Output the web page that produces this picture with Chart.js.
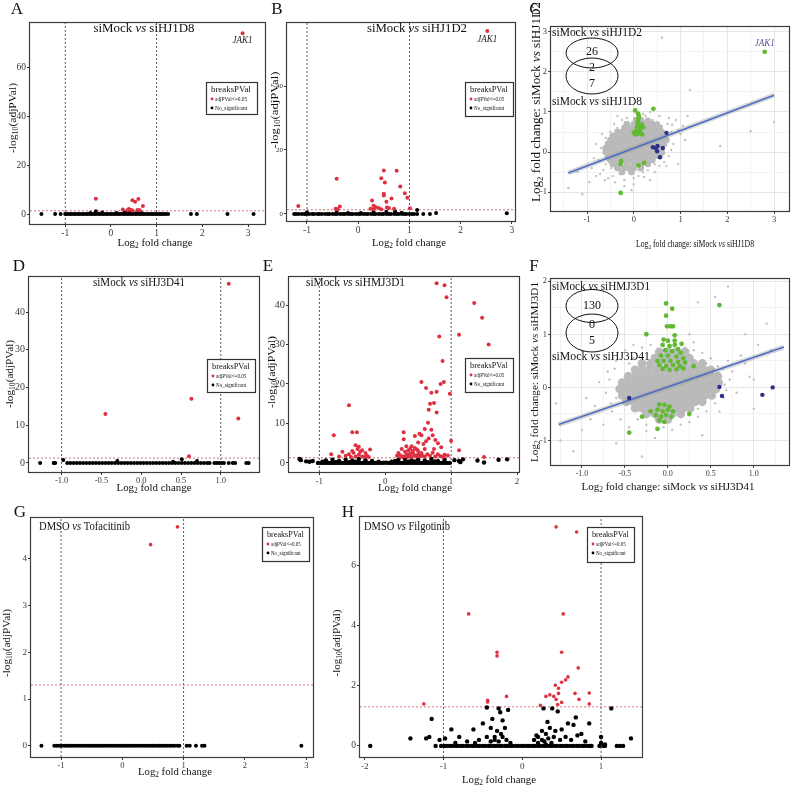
<!DOCTYPE html>
<html>
<head>
<meta charset="utf-8">
<title>Volcano and fold-change panels</title>
<script src="https://cdn.jsdelivr.net/npm/chart.js@4.4.0/dist/chart.umd.min.js"></script>
<style>
  body { margin: 0; background: #fff; }
  #wrap { position: relative; width: 796px; height: 790px; }
  #wrap canvas { position: absolute; left: 0; top: 0; }
</style>
</head>
<body>
<div id="wrap">
  <canvas id="cA" width="796" height="790"></canvas>
  <canvas id="cB" width="796" height="790"></canvas>
  <canvas id="cC" width="796" height="790"></canvas>
  <canvas id="cD" width="796" height="790"></canvas>
  <canvas id="cE" width="796" height="790"></canvas>
  <canvas id="cF" width="796" height="790"></canvas>
  <canvas id="cG" width="796" height="790"></canvas>
  <canvas id="cH" width="796" height="790"></canvas>
</div>
<script>
// shared cut-offs
const SIG_LINE = 1.3;      // -log10(0.05)
const FC_CUT = [-1, 1];
const LEGEND_ITEMS = ['adjPVal<=0.05', 'No_significant'];

// A: siMock vs siHJ1D8
const aSig = [[2.88,74.2],[-0.33,6.3],[0.47,5.6],[0.53,5.0],[0.6,6.2],[0.7,3.3],[0.39,2.1],[0.26,1.9],[0.43,1.7],[0.58,1.6],[0.36,1.5],[0.63,1.5],[0.47,1.4]];
const aFlat = [-1.52,-1.22,-1.1,-1.0,-0.96,-0.91,-0.87,-0.82,-0.78,-0.73,-0.69,-0.64,-0.6,-0.55,-0.51,-0.46,-0.42,-0.37,-0.33,-0.28,-0.24,-0.19,-0.15,-0.1,-0.06,-0.01,0.03,0.08,0.12,0.17,0.21,0.26,0.3,0.35,0.39,0.44,0.48,0.53,0.57,0.62,0.66,0.71,0.75,0.8,0.84,0.89,0.93,0.98,1.02,1.07,1.11,1.16,1.2,1.25,1.75,1.88,2.55,3.12];
const aNs = [[-0.33,1.1],[-0.19,0.6],[0.37,1.0],[0.45,0.7],[0.6,0.8],[0.66,0.5],[-0.45,0.4],[0.12,0.4],[0.3,0.6],[0.55,0.3]];

// B: siMock vs siHJ1D2
const bSig = [[2.52,57.2],[-1.17,2.5],[-0.42,11],[-0.36,2.3],[-0.44,1.6],[-0.4,1.5],[0.27,4.2],[0.3,2.6],[0.34,2.2],[0.45,11.2],[0.5,13.6],[0.52,9.8],[0.5,5.8],[0.5,6.3],[0.55,3.8],[0.65,4.8],[0.75,13.5],[0.82,8.6],[0.91,6.5],[0.96,5.1],[1.01,1.8],[0.24,1.6],[0.4,1.9],[0.6,1.9],[0.45,1.5],[0.56,2.0],[0.3,1.5],[0.7,1.6]];
const bFlat = [-1.25,-1.21,-1.16,-1.1,-1.05,-1.01,-0.96,-0.9,-0.86,-0.8,-0.76,-0.71,-0.65,-0.6,-0.56,-0.5,-0.45,-0.41,-0.35,-0.3,-0.26,-0.2,-0.15,-0.11,-0.05,0.0,0.04,0.1,0.15,0.19,0.25,0.3,0.34,0.4,0.45,0.49,0.55,0.6,0.64,0.7,0.75,0.79,0.85,0.9,0.94,1.0,1.05,1.09,1.15,1.27,1.4];
const bNs = [[1.15,1.2],[1.52,0.3],[2.9,0.2],[-1.0,0.5],[-0.42,0.6],[0.3,0.6],[0.55,0.7],[0.72,0.8],[0.85,0.4],[-0.2,0.3],[0.05,0.3]];

// C: fold change siHJ1D8 (x) vs siHJ1D2 (y)
const cVenn = ['26', '2', '7'];
const cGreen = [[2.8,2.5],[0.42,1.08],[0.03,1.04],[0.09,0.96],[0.11,0.9],[0.1,0.84],[0.09,0.78],[0.08,0.72],[0.1,0.67],[0.15,0.65],[0.2,0.62],[0.07,0.62],[0.12,0.57],[0.0,0.48],[0.03,0.44],[0.08,0.46],[0.14,0.47],[0.18,0.44],[0.05,0.52],[0.13,0.53],[0.02,0.5],[0.17,0.69],[-0.27,-0.22],[-0.28,-0.3],[0.1,-0.33],[0.22,-0.27],[-0.28,-1.02]];
const cBlue = [[0.7,0.48],[0.41,0.12],[0.47,0.1],[0.51,0.15],[0.62,0.1],[0.5,0.02],[0.56,-0.13]];
const cFit = [[-1.4,-0.52],[3.0,1.42]];
const cCore = [[0.05,0.8],[0.15,0.8],[0.3,0.78],
  [-0.15,0.7],[0.0,0.7],[0.1,0.7],[0.2,0.72],[0.3,0.68],[0.4,0.7],[0.5,0.68],
  [-0.2,0.6],[-0.1,0.6],[0.0,0.6],[0.1,0.6],[0.25,0.62],[0.35,0.58],[0.45,0.6],[0.55,0.6],
  [-0.35,0.5],[-0.25,0.5],[-0.15,0.5],[-0.05,0.5],[0.1,0.52],[0.2,0.5],[0.3,0.5],[0.4,0.5],[0.5,0.52],[0.6,0.5],
  [-0.45,0.4],[-0.35,0.4],[-0.25,0.4],[-0.15,0.4],[-0.05,0.4],[0.05,0.4],[0.15,0.4],[0.25,0.4],[0.35,0.4],[0.45,0.4],[0.55,0.42],[0.65,0.4],
  [-0.5,0.3],[-0.4,0.3],[-0.3,0.3],[-0.2,0.3],[-0.1,0.3],[0.0,0.3],[0.1,0.3],[0.2,0.3],[0.3,0.3],[0.4,0.3],[0.5,0.3],[0.6,0.32],[0.7,0.3],
  [-0.55,0.2],[-0.45,0.2],[-0.35,0.2],[-0.25,0.2],[-0.15,0.2],[-0.05,0.2],[0.05,0.2],[0.15,0.2],[0.25,0.2],[0.35,0.2],[0.45,0.2],[0.55,0.2],[0.65,0.2],
  [-0.6,0.1],[-0.5,0.1],[-0.4,0.1],[-0.3,0.1],[-0.2,0.1],[-0.1,0.1],[0.0,0.1],[0.1,0.1],[0.2,0.1],[0.3,0.1],[0.4,0.1],[0.5,0.08],[0.6,0.1],
  [-0.6,0.0],[-0.5,0.0],[-0.4,0.0],[-0.3,0.0],[-0.2,0.0],[-0.1,0.0],[0.0,0.0],[0.1,0.0],[0.2,0.0],[0.3,0.0],[0.4,-0.02],[0.5,0.0],[0.6,-0.02],
  [-0.55,-0.1],[-0.45,-0.1],[-0.35,-0.1],[-0.25,-0.1],[-0.15,-0.1],[-0.05,-0.1],[0.05,-0.1],[0.15,-0.1],[0.25,-0.1],[0.35,-0.12],[0.45,-0.1],[0.55,-0.1],
  [-0.5,-0.2],[-0.4,-0.2],[-0.3,-0.2],[-0.2,-0.2],[-0.1,-0.2],[0.0,-0.2],[0.1,-0.2],[0.2,-0.22],[0.3,-0.2],[0.4,-0.2],
  [-0.45,-0.3],[-0.38,-0.3],[-0.3,-0.3],[-0.15,-0.3],[0.0,-0.3],[0.15,-0.32],[0.3,-0.3],
  [-0.35,-0.4],[-0.2,-0.4],[-0.1,-0.4],[0.0,-0.4],[0.15,-0.4],[-0.25,-0.5],[-0.05,-0.5]];
const cFringe = [[-1.4,-0.9],[-1.1,-1.05],[-0.9,-0.4],[-0.8,-0.6],[-0.75,-0.2],[-0.7,0.1],[-0.65,-0.45],[-0.6,0.35],[-0.6,-0.3],[-0.55,-0.65],[-0.5,0.5],[-0.48,-0.4],[-0.42,0.7],[-0.4,-0.75],[-0.35,0.6],[-0.3,-0.55],[-0.25,0.8],[-0.2,-0.7],[-0.15,0.85],[-0.1,-0.5],[0.0,-0.8],[0.05,0.85],[0.1,-0.6],[0.2,-0.5],[0.25,0.9],[0.3,-0.45],[0.4,0.8],[0.45,-0.3],[0.5,0.75],[0.55,-0.35],[0.6,0.65],[0.65,-0.25],[0.7,0.3],[0.72,0.7],[0.75,-0.1],[0.8,0.5],[0.85,0.2],[0.9,0.8],[0.95,-0.3],[1.0,0.45],[1.05,0.65],[1.2,1.55],[1.85,0.15],[2.5,0.52],[3.0,0.75],[0.6,2.85],[-0.05,-0.95],[0.35,-0.7],[-0.55,0.15],[0.65,0.45],[0.55,0.9],[-0.55,-0.1],[-0.5,0.25],[0.62,0.2],[0.6,-0.05],[0.45,0.68],[0.12,0.78],[-0.3,-0.4],[0.1,-0.45],[-0.15,0.7],
  [-0.85,-0.15],[-0.8,0.2],[-0.72,-0.55],[-0.68,0.45],[-0.62,-0.7],[-0.35,0.9],[-0.2,-0.85],[0.2,0.95],[0.22,-0.62],[0.45,-0.5],[0.7,-0.35],[0.8,0.05],[0.82,0.68],[0.95,0.55],[1.1,0.3],[1.15,0.9],[-0.95,-0.75],[-1.2,-0.5],[0.35,1.0],[0.0,-0.65],[-0.45,-0.6],[0.75,0.85]];

// D: siMock vs siHJ3D41
const dSig = [[1.1,47.5],[-0.45,13],[0.63,17],[1.22,11.8],[0.6,1.8]];
const dFlat = [-1.27,-1.1,-1.08,-0.93,-0.89,-0.85,-0.81,-0.77,-0.73,-0.69,-0.65,-0.61,-0.57,-0.53,-0.49,-0.45,-0.41,-0.37,-0.33,-0.29,-0.25,-0.21,-0.17,-0.13,-0.09,-0.05,-0.01,0.03,0.07,0.11,0.15,0.19,0.23,0.27,0.31,0.35,0.39,0.43,0.47,0.51,0.55,0.59,0.63,0.67,0.71,0.75,0.79,0.83,0.86,0.92,0.95,0.98,1.01,1.04,1.1,1.15,1.18,1.32,1.35];
const dNs = [[-0.98,0.8],[-0.3,0.5],[0.4,0.3],[0.51,1.0],[0.7,0.5]];

// E: siMock vs siHMJ3D1
const eSig = [[0.78,45.5],[0.9,45],[0.93,42],[1.35,40.5],[1.47,36.8],[1.57,30],[1.12,32.5],[0.82,32],[0.87,25.8],[0.55,20.5],[0.62,19],[0.7,17.8],[0.78,18],[0.84,20],[0.89,20.5],[0.98,17.5],[0.68,15],[0.74,15.2],[0.66,13.5],[0.78,12.8],[-0.55,14.6],[-0.78,7],[-0.5,7.8],[-0.43,7.8],[0.28,7.8],[0.52,7.4],[0.55,7],[0.6,8.6],[0.65,10.2],[0.7,8.4],[0.72,7],[0.76,5.8],[0.8,5],[0.85,4],[1.0,5.6],[1.12,3.2],[0.9,2.1],[1.5,1.5],[0.28,6],[0.32,4.2],[0.25,3.5],[0.4,4.2],[0.45,3.8],[0.5,3],[0.35,3.2],[0.2,2.5],[0.3,2.8],[0.38,3.6],[0.42,2.6],[0.48,3.4],[0.55,2.5],[0.6,3.5],[0.18,1.8],[0.22,2.0],[0.26,1.7],[0.3,1.6],[0.33,2.2],[0.36,1.8],[0.4,1.5],[0.44,2.0],[0.47,1.7],[0.52,1.6],[0.56,1.9],[0.6,1.6],[0.64,2.2],[0.68,1.8],[0.72,2.6],[0.76,1.6],[0.8,2.2],[0.84,1.7],[0.88,1.5],[0.95,1.9],[0.58,4.8],[0.66,6.2],[0.74,3.5],[0.62,5.5],[0.5,5.2],[0.45,6.8],[-0.45,4.5],[-0.4,4.1],[-0.35,3.2],[-0.23,3.4],[-0.3,2.5],[-0.5,3],[-0.65,2.8],[-0.6,1.8],[-0.4,2.1],[-0.45,1.6],[-0.55,2.2],[-0.35,1.6],[-0.28,1.9],[-0.25,1.5],[-0.7,1.6],[-0.48,2.6],[-0.38,2.8],[-0.32,1.5],[-0.52,1.5],[-0.42,3.5],[-0.82,2.2],[0.38,2.4],[0.34,1.5],[0.24,1.5],[0.42,3.0],[0.5,2.2]];
const eFlat = [-1.02,-0.98,-0.94,-0.9,-0.86,-0.82,-0.78,-0.74,-0.7,-0.66,-0.62,-0.58,-0.54,-0.5,-0.46,-0.42,-0.38,-0.34,-0.3,-0.26,-0.22,-0.18,-0.14,-0.1,-0.06,0.06,0.1,0.14,0.18,0.22,0.26,0.3,0.34,0.38,0.42,0.46,0.5,0.54,0.58,0.62,0.66,0.7,0.74,0.78,0.82,0.86,0.9,0.94,0.98];
const eNs = [[-1.3,1.0],[-1.28,0.7],[-1.2,0.4],[-1.15,0.3],[-1.1,0.5],[-0.95,0.3],[-0.9,0.6],[-0.8,0.8],[-0.7,0.5],[-0.6,0.9],[-0.5,0.6],[-0.4,1.0],[-0.3,0.7],[-0.2,0.5],[-0.1,0.3],[0.1,0.3],[0.2,0.8],[0.3,1.0],[0.4,0.7],[0.5,0.9],[0.6,0.6],[0.7,1.0],[0.8,0.5],[0.9,0.8],[1.05,0.7],[1.12,0.5],[1.14,0.2],[1.18,0.9],[1.4,0.6],[1.5,0.1],[1.72,0.8],[1.85,0.9],[-0.75,0.2],[-0.45,0.3],[0.35,0.3],[0.65,0.2],[-0.55,0.2],[0.15,0.5],[0.45,0.4],[0.75,0.4],[-0.02,0.05],[0.02,0.05]];

// F: fold change siHJ3D41 (x) vs siHMJ3D1 (y)
const fVenn = ['130', '0', '5'];
const fGreen = [[-0.02,1.58],[0.05,1.48],[0.6,1.55],[-0.02,1.35],[-0.01,1.15],[0.03,1.15],[0.06,1.15],[-0.25,1.0],[0.08,0.98],[-0.05,0.9],[0.0,0.88],[-0.06,0.8],[0.02,0.78],[0.08,0.8],[0.12,0.72],[-0.03,0.7],[0.05,0.68],[0.15,0.65],[-0.08,0.6],[0.0,0.6],[0.1,0.58],[0.18,0.55],[-0.05,0.5],[0.03,0.5],[0.12,0.48],[0.2,0.47],[-0.1,0.42],[-0.02,0.4],[0.06,0.42],[0.14,0.4],[-0.06,0.35],[0.02,0.33],[0.1,0.34],[0.18,0.36],[0.3,0.4],[-0.12,0.5],[0.08,0.88],[0.16,0.82],
  [-0.1,-0.32],[-0.04,-0.33],[0.02,-0.36],[-0.12,-0.42],[-0.06,-0.45],[0.0,-0.42],[0.06,-0.45],[-0.14,-0.52],[-0.08,-0.55],[-0.02,-0.52],[0.04,-0.55],[-0.1,-0.62],[-0.04,-0.65],[-0.3,-0.55],[0.25,-0.5],[-0.12,-0.78],[-0.45,-0.85],[-0.2,-0.45]];
const fBlue = [[-0.45,-0.2],[0.6,0.01],[0.63,-0.16],[1.1,-0.14],[1.22,0.0]];
const fFit = [[-1.27,-0.7],[1.35,0.76]];
const fCore = [[-0.1,0.67],[0.0,0.67],[0.1,0.67],[0.2,0.67],
  [-0.15,0.55],[-0.05,0.55],[0.05,0.55],[0.15,0.55],[0.25,0.55],
  [-0.3,0.45],[-0.2,0.45],[-0.1,0.45],[0.0,0.45],[0.1,0.45],[0.2,0.45],[0.3,0.45],[0.4,0.45],
  [-0.38,0.33],[-0.3,0.33],[-0.22,0.33],[-0.14,0.33],[-0.06,0.33],[0.02,0.33],[0.1,0.33],[0.18,0.33],[0.26,0.33],[0.34,0.33],[0.42,0.33],[0.5,0.33],
  [-0.46,0.21],[-0.38,0.21],[-0.3,0.21],[-0.22,0.21],[-0.14,0.21],[-0.06,0.21],[0.02,0.21],[0.1,0.21],[0.18,0.21],[0.26,0.21],[0.34,0.21],[0.42,0.21],[0.5,0.21],[0.58,0.21],
  [-0.53,0.09],[-0.45,0.09],[-0.37,0.09],[-0.29,0.09],[-0.21,0.09],[-0.13,0.09],[-0.05,0.09],[0.03,0.09],[0.11,0.09],[0.19,0.09],[0.27,0.09],[0.35,0.09],[0.43,0.09],[0.51,0.09],[0.59,0.09],
  [-0.56,-0.03],[-0.48,-0.03],[-0.4,-0.03],[-0.32,-0.03],[-0.24,-0.03],[-0.16,-0.03],[-0.08,-0.03],[0.0,-0.03],[0.08,-0.03],[0.16,-0.03],[0.24,-0.03],[0.32,-0.03],[0.4,-0.03],[0.48,-0.03],[0.56,-0.03],
  [-0.53,-0.15],[-0.45,-0.15],[-0.37,-0.15],[-0.29,-0.15],[-0.21,-0.15],[-0.13,-0.15],[-0.05,-0.15],[0.03,-0.15],[0.11,-0.15],[0.19,-0.15],[0.27,-0.15],[0.35,-0.15],[0.43,-0.15],[0.51,-0.15],
  [-0.48,-0.27],[-0.4,-0.27],[-0.32,-0.27],[-0.24,-0.27],[-0.16,-0.27],[-0.08,-0.27],[0.0,-0.27],[0.08,-0.27],[0.16,-0.27],[0.24,-0.27],[0.32,-0.27],[0.4,-0.27],
  [-0.38,-0.39],[-0.3,-0.39],[-0.22,-0.39],[-0.14,-0.39],[-0.06,-0.39],[0.02,-0.39],[0.1,-0.39],[0.18,-0.39],[0.26,-0.39],
  [-0.25,-0.5],[-0.15,-0.5],[-0.05,-0.5],[0.05,-0.5],[0.15,-0.5],[-0.1,-0.6],[0.0,-0.6]];
const fFringe = [[-1.25,-1.0],[-1.1,-1.2],[-1.0,-0.8],[-0.9,-0.6],[-0.85,-0.35],[-0.8,0.1],[-0.75,-0.7],[-0.7,0.3],[-0.65,-0.45],[-0.6,0.5],[-0.6,-0.2],[-0.55,-0.6],[-0.5,0.7],[-0.45,-0.75],[-0.4,0.55],[-0.35,-0.6],[-0.3,0.75],[-0.25,-0.7],[-0.2,0.8],[-0.15,-0.95],[0.05,-0.8],[0.2,0.75],[0.25,-0.65],[0.3,0.7],[0.35,-0.55],[0.4,0.65],[0.45,-0.45],[0.5,0.55],[0.55,-0.3],[0.58,0.4],[0.62,0.2],[0.65,-0.2],[0.7,0.5],[0.75,0.3],[0.8,-0.1],[0.85,0.6],[0.9,1.0],[0.95,0.2],[1.0,-0.4],[1.05,0.8],[1.15,1.2],[1.2,0.7],[0.7,1.9],[0.55,1.7],[0.35,1.6],[-0.3,-1.3],[-0.6,-1.05],[0.25,1.0],[0.4,-0.9],[-1.3,-0.3],[0.55,0.0],[-0.5,0.2],[-0.52,-0.3],[0.5,-0.2],[0.45,0.45],
  [-0.72,-0.1],[-0.68,0.15],[-0.66,-0.3],[-0.62,0.35],[0.64,0.35],[0.66,0.05],[0.68,-0.05],[0.72,0.15],[-0.4,0.8],[0.3,0.85],[0.1,0.8],[-0.25,-0.82],[0.15,-0.7],[-0.05,-0.75],[0.35,-0.4],[-0.45,0.45],[0.6,-0.45],[-0.95,-0.2],[0.9,0.45],[1.0,0.15]];

// G: DMSO vs Tofacitinib
const gSig = [[0.46,4.3],[0.9,4.68]];
const gFlat = [-1.32,-1.11,-1.07,-1.03,-0.99,-0.95,-0.91,-0.87,-0.83,-0.79,-0.75,-0.71,-0.67,-0.63,-0.59,-0.55,-0.51,-0.47,-0.43,-0.39,-0.35,-0.31,-0.27,-0.23,-0.19,-0.15,-0.11,-0.07,-0.03,0.01,0.05,0.09,0.13,0.17,0.21,0.25,0.29,0.33,0.37,0.41,0.45,0.49,0.53,0.57,0.61,0.65,0.69,0.73,0.77,0.81,0.85,0.9,0.93,1.05,1.1,1.2,1.3,1.34,2.92];
const gNs = [];

// H: DMSO vs Filgotinib
const hSig = [[0.43,7.3],[0.69,7.13],[-0.68,4.4],[0.52,4.4],[-0.32,3.12],[-0.32,3.0],[0.5,3.12],[0.71,2.6],[0.58,2.3],[0.55,2.2],[0.5,2.12],[0.42,2.02],[0.46,1.92],[0.3,1.65],[0.35,1.7],[0.4,1.65],[0.43,1.55],[0.46,1.75],[0.67,1.75],[0.72,1.55],[0.85,1.76],[0.85,1.4],[0.5,1.45],[0.45,1.38],[0.23,1.35],[-0.2,1.65],[-0.44,1.52],[-0.44,1.46],[-1.25,1.4]];
const hFlat = [-1.93,-1.1,-1.03,-0.99,-0.96,-0.92,-0.89,-0.85,-0.82,-0.78,-0.75,-0.71,-0.68,-0.64,-0.61,-0.57,-0.54,-0.5,-0.47,-0.43,-0.4,-0.36,-0.33,-0.29,-0.26,-0.22,-0.19,-0.15,-0.12,-0.08,-0.05,-0.01,0.02,0.06,0.09,0.13,0.16,0.2,0.23,0.27,0.3,0.34,0.37,0.41,0.44,0.48,0.51,0.55,0.58,0.62,0.65,0.69,0.72,0.76,0.79,0.83,0.86,0.88,0.98,1.03,1.05,1.2,1.24,1.28];
const hNs = [[-1.42,0.25],[-1.22,0.25],[-1.18,0.3],[-1.15,0.9],[-1.05,0.2],[-0.98,0.25],[-0.9,0.55],[-0.8,0.3],[-0.62,0.55],[-0.5,0.75],[-0.45,1.28],[-0.4,0.6],[-0.38,0.9],[-0.35,0.3],[-0.3,1.25],[-0.28,1.12],[-0.22,0.6],[-0.18,1.2],[-0.25,0.85],[-0.32,0.5],[-0.27,0.4],[-0.55,0.2],[-0.45,0.3],[-0.4,0.15],[-0.35,0.2],[-0.3,0.15],[-0.25,0.3],[-0.2,0.2],[-0.15,0.1],[-0.7,0.15],[-0.6,0.1],[-0.85,0.1],[0.15,0.2],[0.2,0.3],[0.25,0.5],[0.27,1.25],[0.3,0.4],[0.32,0.8],[0.35,0.6],[0.38,1.25],[0.4,0.3],[0.42,0.5],[0.45,1.15],[0.48,0.2],[0.5,0.55],[0.55,0.3],[0.58,0.75],[0.62,0.2],[0.65,0.7],[0.68,0.95],[0.7,0.35],[0.75,0.4],[0.8,0.15],[0.85,0.75],[1.0,0.3],[1.0,0.1],[1.05,0.05],[1.13,1.25],[1.38,0.25],[0.2,0.1],[0.28,0.15],[0.33,0.25],[0.37,0.1],[0.25,0.2],[0.18,0.35],[0.3,0.05]];

// ---------------------------------------------------------------
const SERIF = '"Liberation Serif", "DejaVu Serif", serif';
const RED = '#dd3040';
Chart.defaults.font.family = SERIF;

const toPts = arr => arr.map(p => ({x: p[0], y: p[1]}));
const flat = xs => xs.map(x => ({x: x, y: 0}));

// text with italic / subscript pieces, squeezed to a target width
function rich(ctx, parts, x, y, size, opt) {
  opt = opt || {};
  const fontOf = s => (s === 'i' ? 'italic ' : '') + (s === 'sub' ? size * 0.68 : size) + 'px ' + SERIF;
  ctx.save();
  ctx.translate(x, y);
  if (opt.rot) ctx.rotate(opt.rot);
  let total = 0;
  parts.forEach(p => { ctx.font = fontOf(p[1]); total += ctx.measureText(p[0]).width; });
  if (opt.w) ctx.scale(opt.w / total, 1);
  ctx.fillStyle = opt.color || '#111';
  ctx.textBaseline = 'middle';
  ctx.textAlign = 'left';
  let cx = opt.align === 'left' ? 0 : -total / 2;
  parts.forEach(p => {
    ctx.font = fontOf(p[1]);
    ctx.fillText(p[0], cx, p[1] === 'sub' ? size * 0.3 : 0);
    cx += ctx.measureText(p[0]).width;
  });
  ctx.restore();
}

const LOGFC = [['Log', ''], ['2', 'sub'], [' fold change', '']];
const NLOGP = [['-log', ''], ['10', 'sub'], ['(adjPVal)', '']];

function volcanoSets(sig, flatX, ns, xr, yr, rs, rn) {
  const dash = {showLine: true, pointRadius: 0, borderWidth: 0.8, borderDash: [2, 2]};
  return [
    {data: toPts(sig), backgroundColor: RED, pointRadius: rs, borderWidth: 0},
    {data: flat(flatX).concat(toPts(ns)), backgroundColor: '#000', pointRadius: rn, borderWidth: 0},
    Object.assign({data: [{x: xr[0], y: SIG_LINE}, {x: xr[1], y: SIG_LINE}], borderColor: '#c9505e'}, dash),
    Object.assign({data: [{x: FC_CUT[0], y: yr[0]}, {x: FC_CUT[0], y: yr[1]}], borderColor: '#333'}, dash),
    Object.assign({data: [{x: FC_CUT[1], y: yr[0]}, {x: FC_CUT[1], y: yr[1]}], borderColor: '#333'}, dash)
  ];
}

function compareSets(green, blue, fit, core, fringe, rCore) {
  return [
    {data: toPts(green), backgroundColor: '#63b934', pointRadius: 2.4, borderWidth: 0},
    {data: toPts(blue), backgroundColor: '#2b2f86', pointRadius: 2.2, borderWidth: 0},
    {data: toPts(fit), showLine: true, borderColor: '#4b6ec2', borderWidth: 1.6, pointRadius: 0},
    {data: toPts(fit), showLine: true, borderColor: 'rgba(150,150,150,0.35)', borderWidth: 5, pointRadius: 0},
    {data: toPts(core), backgroundColor: '#bababa', pointRadius: rCore, borderWidth: 0},
    {data: toPts(fringe), backgroundColor: '#c2c2c2', pointRadius: 1.2, borderWidth: 0}
  ];
}

function drawLegend(ctx, r) {
  const [x, y, w, h] = r;
  ctx.save();
  ctx.fillStyle = '#fff';
  ctx.fillRect(x, y, w, h);
  ctx.strokeStyle = '#333';
  ctx.lineWidth = 1.2;
  ctx.strokeRect(x + 0.5, y + 0.5, w, h);
  rich(ctx, [['breaksPVal', '']], x + 5, y + 8, 9, {align: 'left', w: w * 0.78});
  [RED, '#000'].forEach((c, i) => {
    const yy = y + 17 + i * 9;
    ctx.fillStyle = c;
    ctx.beginPath();
    ctx.arc(x + 6, yy, 1.4, 0, Math.PI * 2);
    ctx.fill();
    rich(ctx, [[LEGEND_ITEMS[i], '']], x + 9, yy, 6, {align: 'left', w: w * 0.63});
  });
  ctx.restore();
}

function drawVenn(ctx, v, nums) {
  ctx.save();
  ctx.strokeStyle = '#111';
  ctx.lineWidth = 1;
  v.ell.forEach(e => {
    ctx.beginPath();
    ctx.ellipse(e[0], e[1], e[2], e[3], 0, 0, Math.PI * 2);
    ctx.stroke();
  });
  nums.forEach((n, i) => rich(ctx, [[n, '']], v.num[i][0], v.num[i][1], 12));
  v.labels.forEach(l => rich(ctx, l.parts, l.x, l.y, 12, {align: 'left', w: l.w}));
  ctx.restore();
}

function decor(p) {
  return {
    id: 'decor',
    afterDatasetsDraw(chart) {
      const ctx = chart.ctx, a = chart.chartArea;
      ctx.save();
      ctx.strokeStyle = '#3c3c3c';
      ctx.lineWidth = 1.2;
      ctx.strokeRect(a.left - 0.5, a.top - 0.5, a.right - a.left + 1, a.bottom - a.top + 1);
      ctx.restore();
    },
    afterDraw(chart) {
      const ctx = chart.ctx;
      rich(ctx, [[p.letter[0], '']], p.letter[1], p.letter[2], 17);
      if (p.title) rich(ctx, p.title.parts, p.title.x, p.title.y, 13, {align: p.title.align, w: p.title.w});
      rich(ctx, p.xTitle.parts || LOGFC, p.xTitle.x, p.xTitle.y, p.xTitle.size || 11, {w: p.xTitle.w});
      rich(ctx, p.yTitle.parts || NLOGP, p.yTitle.x, p.yTitle.y, p.yTitle.size || 11, {w: p.yTitle.w, rot: -Math.PI / 2});
      if (p.legend) drawLegend(ctx, p.legend);
      if (p.venn) drawVenn(ctx, p.venn, p.vennNums);
      if (p.label) {
        const px = chart.scales.x.getPixelForValue(p.label.pt[0]);
        const py = chart.scales.y.getPixelForValue(p.label.pt[1]);
        rich(ctx, [[p.label.text, 'i']], px + (p.label.dx || 0), py + p.label.dy, 11, {color: p.label.color, w: p.label.w});
      }
    }
  };
}

function makeChart(p) {
  const [l, t, r, b] = p.box;
  const YW = 22, XH = 16;
  const axis = (range, ticks, majors, fs, fmt, horiz) => ({
    type: 'linear',
    min: range[0],
    max: range[1],
    afterBuildTicks: s => { s.ticks = ticks.map(v => ({value: v})); },
    afterFit: s => { if (horiz) s.height = XH; else s.width = YW; },
    ticks: {
      font: {size: fs, family: SERIF}, color: '#3a3a3a', padding: 1,
      autoSkip: false, maxRotation: 0, minRotation: 0,
      callback: v => (majors.includes(v) ? fmt(v) : '')
    },
    grid: p.grid ? {
      drawOnChartArea: true, tickLength: 3, lineWidth: 1,
      color: c => (majors.includes(c.tick.value) ? '#e6e6e6' : '#f3f3f3'),
      tickColor: c => (majors.includes(c.tick.value) ? '#444' : 'rgba(0,0,0,0)')
    } : {drawOnChartArea: false, tickLength: 3, tickColor: '#333', color: '#333'},
    border: {display: false}
  });
  new Chart(document.getElementById(p.id), {
    type: 'scatter',
    data: {datasets: p.sets},
    options: {
      responsive: false,
      animation: false,
      events: [],
      layout: {padding: {left: l - YW, top: t, right: 796 - r, bottom: 790 - b - XH}},
      plugins: {legend: {display: false}, tooltip: {enabled: false}},
      scales: {
        x: axis(p.xr, p.xt, p.xm || p.xt, p.xfs, p.xfmt || String, true),
        y: axis(p.yr, p.yt, p.ym || p.yt, p.yfs, p.yfmt || String, false)
      }
    },
    plugins: [decor(p)]
  });
}

const oneDec = v => v.toFixed(1);

const panels = [
  {
    id: 'cA', box: [30, 23, 265, 224], xr: [-1.77, 3.37], yr: [-4.1, 78.4],
    xt: [-1, 0, 1, 2, 3], yt: [0, 20, 40, 60], xfs: 9.5, yfs: 9.5,
    letter: ['A', 17, 10],
    title: {parts: [['siMock ', ''], ['vs', 'i'], [' siHJ1D8', '']], x: 144, y: 29, w: 101},
    xTitle: {x: 155, y: 243, w: 75}, yTitle: {x: 13, y: 118, w: 70},
    legend: [206, 82, 51, 32],
    label: {pt: aSig[0], dy: 7, text: 'JAK1', color: '#222', w: 20},
    sets: volcanoSets(aSig, aFlat, aNs, [-1.77, 3.37], [-4.1, 78.4], 2, 2)
  },
  {
    id: 'cB', box: [287, 23, 515, 221], xr: [-1.39, 3.06], yr: [-2.2, 59.7],
    xt: [-1, 0, 1, 2, 3], yt: [0, 20, 40], xfs: 9.5, yfs: 7,
    letter: ['B', 277, 10],
    title: {parts: [['siMock ', ''], ['vs', 'i'], [' siHJ1D2', '']], x: 417, y: 29, w: 100},
    xTitle: {x: 409, y: 243, w: 74}, yTitle: {x: 275, y: 110, w: 77},
    legend: [465, 82, 48, 34],
    label: {pt: bSig[0], dy: 8, text: 'JAK1', color: '#222', w: 20},
    sets: volcanoSets(bSig, bFlat, bNs, [-1.39, 3.06], [-2.2, 59.7], 2, 2)
  },
  {
    id: 'cC', grid: true, box: [551, 27, 789, 211], xr: [-1.77, 3.32], yr: [-1.47, 3.12],
    xt: [-1.5, -1, -0.5, 0, 0.5, 1, 1.5, 2, 2.5, 3], xm: [-1, 0, 1, 2, 3],
    yt: [-1, -0.5, 0, 0.5, 1, 1.5, 2, 2.5, 3], ym: [-1, 0, 1, 2, 3], xfs: 8.5, yfs: 8.5,
    letter: ['C', 535, 10],
    xTitle: {parts: LOGFC.concat([[': siMock ', ''], ['vs', 'i'], [' siHJ1D8', '']]), x: 695, y: 244, w: 118, size: 10},
    yTitle: {parts: LOGFC.concat([[': siMock ', ''], ['vs', 'i'], [' siHJ1D2', '']]), x: 537, y: 102, w: 200, size: 12},
    venn: {
      ell: [[592, 53, 26, 15], [592, 76, 26, 18]],
      num: [[592, 52], [592, 68], [592, 84]],
      labels: [
        {parts: [['siMock ', ''], ['vs', 'i'], [' siHJ1D2', '']], x: 552, y: 33, w: 90},
        {parts: [['siMock ', ''], ['vs', 'i'], [' siHJ1D8', '']], x: 552, y: 102, w: 90}
      ]
    },
    vennNums: cVenn,
    label: {pt: cGreen[0], dy: -9, text: 'JAK1', color: '#55559a', w: 20},
    sets: compareSets(cGreen, cBlue, cFit, cCore, cFringe, 3.3)
  },
  {
    id: 'cD', box: [29, 277, 259, 472], xr: [-1.41, 1.48], yr: [-2.4, 49.3],
    xt: [-1, -0.5, 0, 0.5, 1], yt: [0, 10, 20, 30, 40], xfs: 8.5, yfs: 10, xfmt: oneDec,
    letter: ['D', 19, 267],
    title: {parts: [['siMock ', ''], ['vs', 'i'], [' siHJ3D41', '']], x: 139, y: 283, w: 92},
    xTitle: {x: 154, y: 488, w: 75}, yTitle: {x: 10, y: 374, w: 68},
    legend: [207, 359, 48, 33],
    sets: volcanoSets(dSig, dFlat, dNs, [-1.41, 1.48], [-2.4, 49.3], 2, 2)
  },
  {
    id: 'cE', box: [289, 277, 519, 472], xr: [-1.46, 2.03], yr: [-2.3, 47.1],
    xt: [-1, 0, 1, 2], yt: [0, 10, 20, 30, 40], xfs: 9, yfs: 10.5,
    letter: ['E', 268, 267],
    title: {parts: [['siMock ', ''], ['vs', 'i'], [' siHMJ3D1', '']], x: 306, y: 283, w: 99, align: 'left'},
    xTitle: {x: 415, y: 488, w: 74}, yTitle: {x: 272, y: 372, w: 72},
    legend: [465, 358, 48, 34],
    sets: volcanoSets(eSig, eFlat, eNs, [-1.46, 2.03], [-2.3, 47.1], 2, 2.2)
  },
  {
    id: 'cF', grid: true, box: [551, 279, 789, 465], xr: [-1.36, 1.41], yr: [-1.46, 2.04],
    xt: [-1.25, -1, -0.75, -0.5, -0.25, 0, 0.25, 0.5, 0.75, 1, 1.25], xm: [-1, -0.5, 0, 0.5, 1],
    yt: [-1, -0.5, 0, 0.5, 1, 1.5, 2], ym: [-1, 0, 1, 2], xfs: 8, yfs: 8.5, xfmt: oneDec,
    letter: ['F', 534, 267],
    xTitle: {parts: LOGFC.concat([[': siMock ', ''], ['vs', 'i'], [' siHJ3D41', '']]), x: 668, y: 487, w: 173, size: 11},
    yTitle: {parts: LOGFC.concat([[': siMock ', ''], ['vs', 'i'], [' siHMJ3D1', '']]), x: 535, y: 372, w: 180, size: 11},
    venn: {
      ell: [[592, 306, 26, 16.5], [592, 333, 26, 19]],
      num: [[592, 306], [592, 325], [592, 341]],
      labels: [
        {parts: [['siMock ', ''], ['vs', 'i'], [' siHMJ3D1', '']], x: 552, y: 287, w: 98},
        {parts: [['siMock ', ''], ['vs', 'i'], [' siHJ3D41', '']], x: 552, y: 357, w: 98}
      ]
    },
    vennNums: fVenn,
    sets: compareSets(fGreen, fBlue, fFit, fCore, fFringe, 4.4)
  },
  {
    id: 'cG', box: [31, 518, 313, 757], xr: [-1.49, 3.11], yr: [-0.24, 4.87],
    xt: [-1, 0, 1, 2, 3], yt: [0, 1, 2, 3, 4], xfs: 8.5, yfs: 9,
    letter: ['G', 20, 513],
    title: {parts: [['DMSO ', ''], ['vs', 'i'], [' Tofacitinib', '']], x: 39, y: 527, w: 91, align: 'left'},
    xTitle: {x: 175, y: 772, w: 74}, yTitle: {x: 7, y: 643, w: 68},
    legend: [262, 527, 47, 34],
    sets: volcanoSets(gSig, gFlat, gNs, [-1.49, 3.11], [-0.24, 4.87], 1.8, 2)
  },
  {
    id: 'cH', box: [360, 517, 642, 757], xr: [-2.06, 1.52], yr: [-0.37, 7.63],
    xt: [-2, -1, 0, 1], yt: [0, 2, 4, 6], xfs: 9, yfs: 9.5,
    letter: ['H', 348, 513],
    title: {parts: [['DMSO ', ''], ['vs', 'i'], [' Filgotinib', '']], x: 364, y: 527, w: 86, align: 'left'},
    xTitle: {x: 499, y: 780, w: 74}, yTitle: {x: 337, y: 643, w: 67},
    legend: [587, 527, 47, 35],
    sets: volcanoSets(hSig, hFlat, hNs, [-2.06, 1.52], [-0.37, 7.63], 1.8, 2.2)
  }
];

panels.forEach(makeChart);
</script>
</body>
</html>
